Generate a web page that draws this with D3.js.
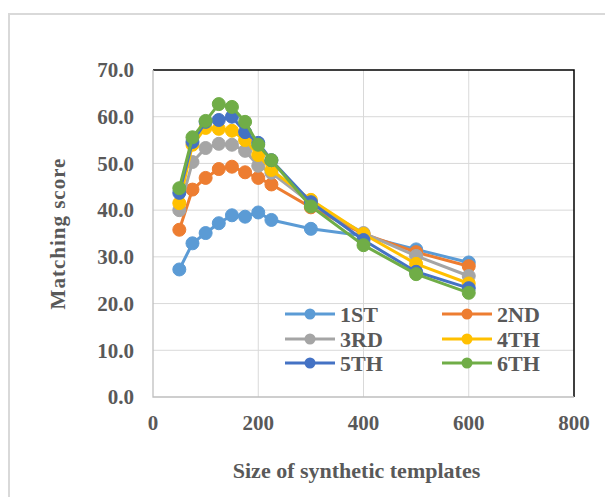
<!DOCTYPE html>
<html><head><meta charset="utf-8">
<script src="https://cdn.jsdelivr.net/npm/d3@7"></script>
<style>html,body{margin:0;padding:0;background:#fff;}svg{display:block;}</style>
</head><body>
<svg id="c" width="605" height="497"></svg>
<script>
const xValues = [50,75,100,125,150,175,200,225,300,400,500,600];
const seriesNames = ["1ST","2ND","3RD","4TH","5TH","6TH"];
const s1 = [27.3,32.9,35.1,37.2,38.9,38.6,39.5,37.9,36.0,34.5,31.6,28.8];
const s2 = [35.8,44.4,46.9,48.8,49.3,48.1,46.9,45.5,40.6,34.9,31.0,28.0];
const s3 = [40.0,50.3,53.3,54.2,54.0,52.7,49.5,48.0,41.5,35.1,30.2,25.9];
const s4 = [41.5,54.0,57.6,57.4,57.0,55.0,51.8,48.6,42.2,34.9,28.5,24.3];
const s5 = [43.7,54.6,58.9,59.3,60.0,56.7,54.4,50.7,41.7,33.6,26.8,23.3];
const s6 = [44.7,55.6,59.1,62.7,62.1,58.9,54.0,50.7,40.8,32.5,26.3,22.3];
const xTicks = [0,200,400,600,800];
const yTicks = [0,10,20,30,40,50,60,70];
const colors = ["#5B9BD5","#ED7D31","#A5A5A5","#FFC000","#4472C4","#70AD47"];
const xTitle = "Size of synthetic templates";
const yTitle = "Matching score";

const allSeries = [s1,s2,s3,s4,s5,s6];
const svg = d3.select("#c");
const L=153, R=574, T=70, B=397;
const x = d3.scaleLinear().domain([0,800]).range([L,R]);
const y = d3.scaleLinear().domain([0,70]).range([B,T]);
const font = "'Liberation Serif','Times New Roman',serif";
const textCol = "#595959";

// outer border
svg.append("rect").attr("x",9).attr("y",14).attr("width",620).attr("height",500)
  .attr("fill","#fff").attr("stroke","#d9d9d9").attr("stroke-width",2);

// gridlines
svg.append("g").selectAll("line").data(yTicks.filter(d=>d>0&&d<70)).join("line")
  .attr("x1",L).attr("x2",R).attr("y1",d=>y(d)).attr("y2",d=>y(d))
  .attr("stroke","#d9d9d9").attr("stroke-width",1);
svg.append("g").selectAll("line").data(xTicks.filter(d=>d>0&&d<800)).join("line")
  .attr("x1",d=>x(d)).attr("x2",d=>x(d)).attr("y1",T).attr("y2",B)
  .attr("stroke","#d9d9d9").attr("stroke-width",1);

// top/right black border
svg.append("path").attr("d",`M${L},${T}H${R}V${B}`).attr("fill","none")
  .attr("stroke","#000").attr("stroke-width",1.5);
// axes lines
svg.append("path").attr("d",`M${L},${T}V${B}H${R}`).attr("fill","none")
  .attr("stroke","#bfbfbf").attr("stroke-width",1.3);

// tick labels
svg.append("g").selectAll("text").data(yTicks).join("text")
  .attr("x",134).attr("y",d=>y(d)).attr("dy","0.35em").attr("text-anchor","end")
  .attr("font-family",font).attr("font-weight","bold").attr("font-size",21)
  .attr("fill",textCol).text(d=>d3.format(".1f")(d));
svg.append("g").selectAll("text").data(xTicks).join("text")
  .attr("x",d=>x(d)).attr("y",423).attr("dy","0.35em").attr("text-anchor","middle")
  .attr("font-family",font).attr("font-weight","bold").attr("font-size",21)
  .attr("fill",textCol).text(d=>d);

// titles
svg.append("text").attr("x",(L+R)/2-7).attr("y",470).attr("dy","0.35em").attr("text-anchor","middle")
  .attr("font-family",font).attr("font-weight","bold").attr("font-size",22)
  .attr("fill",textCol).text(xTitle);
svg.append("text").attr("transform",`translate(58,${(T+B)/2}) rotate(-90)`)
  .attr("dy","0.35em").attr("text-anchor","middle")
  .attr("font-family",font).attr("font-weight","bold").attr("font-size",21)
  .attr("letter-spacing","1px")
  .attr("fill",textCol).text(yTitle);

// series
const line = d3.line().x((d,i)=>x(xValues[i])).y(d=>y(d));
allSeries.forEach((s,k)=>{
  const g = svg.append("g");
  g.append("path").datum(s).attr("d",line).attr("fill","none")
    .attr("stroke",colors[k]).attr("stroke-width",3).attr("stroke-linejoin","round");
  g.selectAll("circle").data(s).join("circle")
    .attr("cx",(d,i)=>x(xValues[i])).attr("cy",d=>y(d)).attr("r",6.5)
    .attr("fill",colors[k]).attr("stroke",colors[k]).attr("stroke-width",1);
});

// legend
const legRows = [314,339,363];
const legCols = [285,442];
seriesNames.forEach((n,k)=>{
  const lx = legCols[k%2], ly = legRows[Math.floor(k/2)];
  const g = svg.append("g");
  g.append("line").attr("x1",lx).attr("x2",lx+50).attr("y1",ly).attr("y2",ly)
    .attr("stroke",colors[k]).attr("stroke-width",3);
  g.append("circle").attr("cx",lx+25).attr("cy",ly).attr("r",5.5).attr("fill",colors[k]);
  g.append("text").attr("x",lx+55).attr("y",ly).attr("dy","0.35em")
    .attr("font-family",font).attr("font-weight","bold").attr("font-size",22)
    .attr("fill",textCol).text(n);
});
</script>
</body></html>
